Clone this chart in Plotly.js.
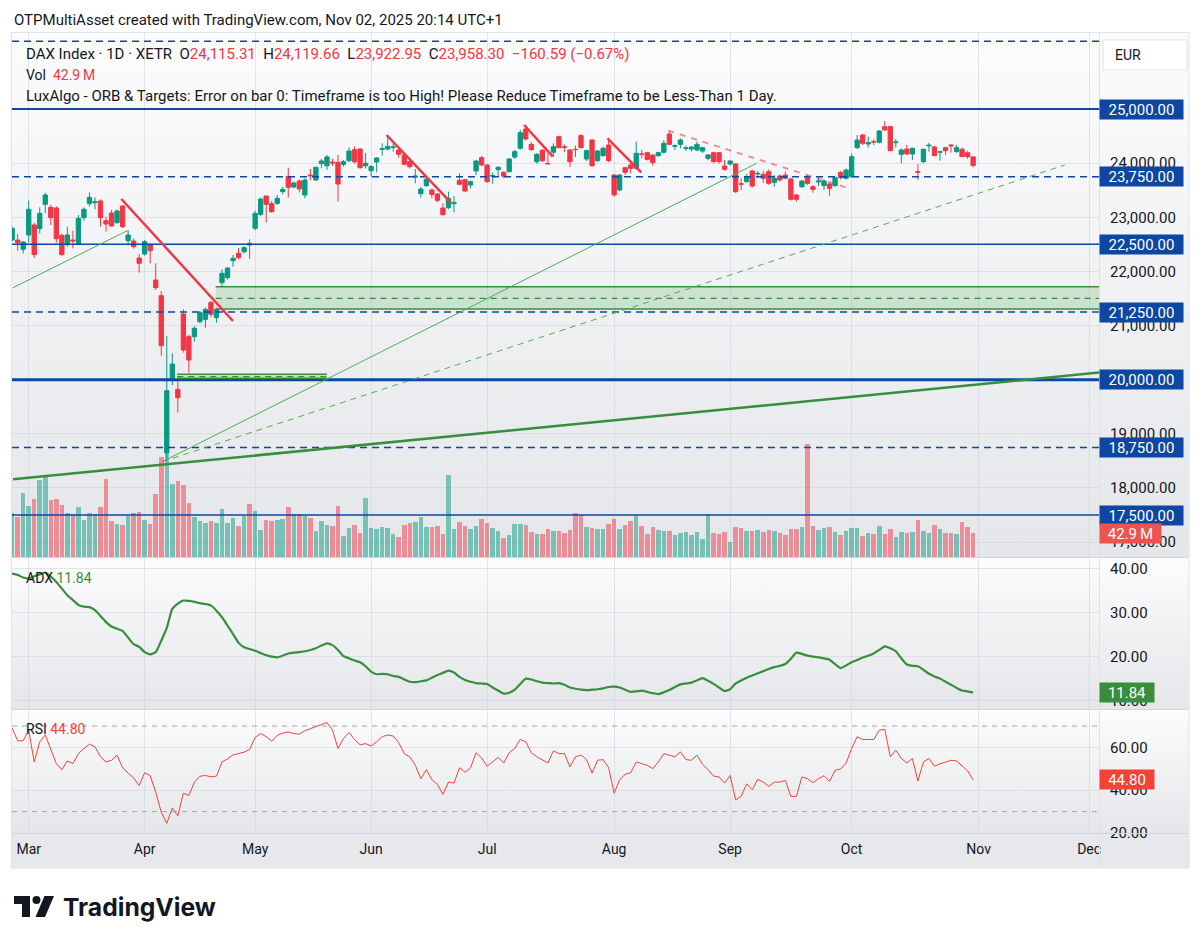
<!DOCTYPE html>
<html>
<head>
<meta charset="utf-8">
<script src="https://cdn.plot.ly/plotly-3.0.1.min.js"></script>
<style>
  html, body { margin: 0; padding: 0; background: #ffffff; }
  #chart { width: 1202px; height: 944px; }
</style>
</head>
<body>
<div id="chart"></div>
<script>
// ---- Xetra sessions shown on the chart, grouped by month ----
const sessionDays = {
  '2025-02': [26, 27, 28],
  '2025-03': [3, 4, 5, 6, 7, 10, 11, 12, 13, 14, 17, 18, 19, 20, 21, 24, 25, 26, 27, 28, 31],
  '2025-04': [1, 2, 3, 4, 7, 8, 9, 10, 11, 14, 15, 16, 17, 22, 23, 24, 25, 28, 29, 30],
  '2025-05': [2, 5, 6, 7, 8, 9, 12, 13, 14, 15, 16, 19, 20, 21, 22, 23, 26, 27, 28, 29, 30],
  '2025-06': [2, 3, 4, 5, 6, 9, 10, 11, 12, 13, 16, 17, 18, 19, 20, 23, 24, 25, 26, 27, 30],
  '2025-07': [1, 2, 3, 4, 7, 8, 9, 10, 11, 14, 15, 16, 17, 18, 21, 22, 23, 24, 25, 28, 29, 30, 31],
  '2025-08': [1, 4, 5, 6, 7, 8, 11, 12, 13, 14, 15, 18, 19, 20, 21, 22, 25, 26, 27, 28, 29],
  '2025-09': [1, 2, 3, 4, 5, 8, 9, 10, 11, 12, 15, 16, 17, 18, 19, 22, 23, 24, 25, 26, 29, 30],
  '2025-10': [1, 2, 3, 6, 7, 8, 9, 10, 13, 14, 15, 16, 17, 20, 21, 22, 23, 24, 27, 28, 29, 30, 31]
};
// sessions to come (empty space on the right of the time axis)
const upcomingDays = {
  '2025-11': [3, 4, 5, 6, 7, 10, 11, 12, 13, 14, 17, 18, 19, 20, 21, 24, 25, 26, 27, 28],
  '2025-12': [1, 2, 3, 4, 5]
};
const monthNames = ['Jan','Feb','Mar','Apr','May','Jun','Jul','Aug','Sep','Oct','Nov','Dec'];

// ---- DAX daily OHLC ----
const open = [
  22580, 22580, 22408,
  22673, 22857, 22790, 23239, 23184, 23171, 22667, 22494, 22580, 22506,
  22993, 23251, 23270, 23301, 22937, 23079, 22901, 23208, 22568, 22562,
  22248, 22322, 22488, 21842, 21552, 18650, 20031, 19822, 21214, 20795,
  20795, 21072, 21115, 21429, 21146, 21792, 21885, 22199, 22334, 22365,
  22519, 22796, 23054, 23393, 23251, 23257, 23473, 23756, 23559, 23670,
  23411, 23781, 23689, 23990, 23953, 24020, 24015, 23978, 24046, 24249,
  24261, 23953, 23861, 24021, 24255, 24261, 24290, 24243, 24150, 24027,
  23740, 23436, 23584, 23504, 23430, 23171, 23177, 23251, 23682, 23695,
  23596, 23855, 24101, 23965, 23760, 23879, 23830, 23842, 24113, 24273,
  24631, 24347, 24027, 24237, 23995, 24200, 24489, 24304, 24243, 24255,
  24508, 24077, 24427, 24046, 24138, 24335, 23781, 23504, 23916, 23965,
  23904, 24170, 24193, 24150, 24138, 24200, 24538, 24310, 24347, 24270,
  24261, 24243, 24224, 24089, 24193, 24193, 23947, 23984, 23984, 23620,
  23658, 23855, 23800, 23793, 23842, 23645, 23762, 23781, 23707, 23411,
  23565, 23731, 23565, 23652, 23584, 23615, 23584, 23830, 23719, 23750,
  24286, 24520, 24353, 24397, 24384, 24674, 24674, 24378, 24163, 24261,
  24169, 23842, 24027, 24320, 24298, 24200, 24286, 24335, 24212, 24255,
  24193, 24115.31
];
const high = [
  22830, 22691, 22560,
  23307, 22900, 23184, 23455, 23230, 23200, 22700, 22827, 22753, 23042,
  23180, 23460, 23368, 23330, 23011, 23135, 23140, 23220, 22765, 22610,
  22322, 22580, 22520, 22150, 21638, 20807, 20486, 20025, 21300, 20830,
  20990, 21270, 21330, 21450, 21320, 22039, 22075, 22303, 22433, 22470,
  22593, 23120, 23362, 23400, 23300, 23411, 23565, 23916, 23658, 23700,
  23720, 23892, 23935, 24077, 24150, 24080, 24150, 24058, 24292, 24310,
  24270, 24187, 23966, 24110, 24366, 24520, 24366, 24260, 24160, 24040,
  23892, 23565, 23750, 23530, 23445, 23257, 23473, 23393, 23812, 23710,
  23680, 24060, 24130, 23980, 23830, 23940, 23850, 24090, 24249, 24618,
  24704, 24397, 24180, 24260, 24181, 24366, 24508, 24347, 24260, 24323,
  24532, 24250, 24446, 24240, 24304, 24458, 23800, 23800, 23935, 24027,
  24397, 24243, 24210, 24160, 24212, 24427, 24581, 24347, 24458, 24323,
  24310, 24397, 24300, 24170, 24210, 24200, 24058, 24060, 24000, 23719,
  23800, 23880, 23855, 23861, 23885, 23780, 23790, 23842, 23730, 23430,
  23680, 23781, 23596, 23738, 23700, 23640, 23745, 23850, 23900, 24181,
  24520, 24540, 24490, 24440, 24612, 24778, 24690, 24446, 24270, 24335,
  24290, 23984, 24270, 24378, 24320, 24230, 24300, 24353, 24335, 24290,
  24230, 24119.66
];
const low = [
  22560, 22383, 22334,
  22531, 22250, 22700, 23073, 22857, 22531, 22290, 22457, 22426, 22488,
  22937, 23200, 23147, 22827, 22734, 22827, 22880, 22800, 22482, 22420,
  21977, 22290, 22150, 21657, 20444, 18490, 19902, 19391, 20500, 20130,
  20703, 21040, 20960, 21152, 21054, 21730, 21850, 22088, 22220, 22330,
  22230, 22760, 23020, 22900, 23080, 23230, 23424, 23362, 23535, 23460,
  23350, 23682, 23670, 23904, 23873, 23950, 23289, 23935, 24020, 23990,
  23900, 23900, 23750, 23830, 24138, 24236, 24212, 24101, 23960, 23900,
  23627, 23362, 23560, 23350, 23276, 23030, 23150, 23091, 23590, 23470,
  23535, 23780, 23950, 23640, 23620, 23760, 23720, 23830, 24077, 24250,
  24420, 24230, 23990, 24020, 23978, 24126, 24280, 24200, 23929, 24113,
  24270, 24040, 23930, 24020, 24120, 24020, 23380, 23480, 23781, 23812,
  23880, 24089, 24050, 23953, 24120, 24180, 24330, 24243, 24273, 24224,
  24220, 24220, 24190, 24052, 24000, 23990, 23860, 23960, 23450, 23504,
  23640, 23547, 23720, 23639, 23600, 23565, 23660, 23700, 23310, 23288,
  23540, 23600, 23454, 23578, 23504, 23400, 23560, 23700, 23700, 23730,
  24260, 24330, 24286, 24335, 24365, 24600, 24220, 24286, 23996, 24150,
  24058, 23688, 24000, 24212, 24130, 24046, 24150, 24193, 24193, 24120,
  24080, 23922.95
];
const close = [
  22796, 22531, 22543,
  23147, 22310, 23073, 23412, 22993, 22605, 22310, 22673, 22560, 22981,
  23147, 23368, 23290, 22993, 22876, 22839, 23116, 22827, 22673, 22457,
  22150, 22550, 22383, 21700, 20629, 19797, 20290, 19668, 20549, 20364,
  20949, 21238, 21300, 21208, 21300, 21965, 22063, 22242, 22254, 22439,
  22488, 23073, 23337, 23239, 23104, 23350, 23516, 23553, 23633, 23522,
  23689, 23767, 23923, 24040, 24113, 24005, 23615, 24027, 24224, 24027,
  23916, 23996, 23935, 24095, 24267, 24310, 24300, 24163, 23978, 23935,
  23760, 23522, 23701, 23424, 23313, 23048, 23350, 23270, 23608, 23485,
  23658, 24040, 23965, 23658, 23770, 23923, 23760, 24077, 24212, 24563,
  24446, 24249, 24163, 24046, 23988, 24304, 24286, 24290, 24027, 24250,
  24286, 24230, 23953, 24224, 24274, 24046, 23412, 23781, 23830, 23904,
  24181, 24163, 24070, 24009, 24193, 24366, 24347, 24320, 24427, 24280,
  24298, 24347, 24286, 24150, 24027, 24027, 23886, 24040, 23473, 23610,
  23750, 23578, 23810, 23720, 23627, 23719, 23688, 23720, 23331, 23331,
  23670, 23627, 23516, 23670, 23670, 23535, 23732, 23731, 23873, 24119,
  24427, 24366, 24378, 24390, 24594, 24612, 24230, 24390, 24243, 24169,
  24273, 23830, 24255, 24330, 24138, 24210, 24230, 24320, 24286, 24120,
  24118.89, 23958.30
];
// volume, millions of contracts
const volume = [
  79.2, 71.5, 114.4,
  91.1, 103.6, 137.6, 143.0, 101.9, 103.6, 92.9, 78.6, 76.8, 89.3,
  66.1, 78.6, 76.8, 89.3, 139.4, 64.3, 58.9, 57.2, 73.3, 78.6,
  80.4, 66.1, 58.9, 112.6, 178.7, 197.2, 130.5, 135.8, 128.7, 96.5,
  71.5, 64.3, 60.8, 64.3, 60.8, 85.8, 60.8, 69.7, 55.4, 73.3,
  94.7, 82.2, 48.2, 66.1, 64.3, 66.1, 67.9, 89.3, 76.8, 76.8,
  73.3, 69.7, 46.4, 64.3, 57.2, 55.4, 91.1, 37.5, 51.8, 57.2,
  42.9, 105.4, 51.8, 50.0, 53.6, 51.8, 41.1, 35.7, 57.2, 60.8,
  62.5, 71.5, 53.6, 53.6, 55.4, 41.1, 146.5, 50.0, 62.5, 55.4,
  50.0, 55.4, 67.9, 60.8, 51.8, 46.4, 33.9, 39.3, 58.9, 58.9,
  57.2, 44.7, 41.1, 41.1, 50.0, 46.4, 46.4, 42.9, 48.2, 78.6,
  75.1, 53.6, 51.8, 50.0, 50.0, 58.9, 67.9, 50.0, 57.2, 64.3,
  73.3, 55.4, 41.1, 53.6, 48.2, 46.4, 46.4, 39.3, 42.9, 44.7,
  39.3, 44.7, 32.1, 76.8, 42.9, 41.1, 44.7, 26.8, 53.6, 51.8,
  46.4, 46.4, 48.2, 44.7, 48.2, 46.4, 42.9, 39.3, 50.0, 50.0,
  53.6, 202.0, 55.4, 48.2, 51.8, 53.6, 44.7, 39.3, 46.4, 51.8,
  51.8, 37.5, 42.9, 41.1, 55.4, 41.1, 50.0, 35.7, 44.7, 42.9,
  44.7, 66.1, 46.4, 42.9, 57.2, 50.0, 42.9, 42.9, 41.1, 62.5,
  53.6, 42.9
];
// ADX (14)
const adx = [
  38.8, 38.5, 37.9,
  37.7, 38.2, 38.6, 39.0, 38.1, 36.9, 35.4, 33.9, 32.8, 31.7,
  31.3, 31.2, 30.5, 29.2, 27.8, 26.8, 26.3, 25.8, 24.3, 22.8,
  22.2, 21.0, 20.5, 21.0, 23.6, 26.5, 30.8, 32.0, 32.7, 32.6,
  32.4, 32.1, 31.9, 31.6, 30.4, 28.9, 27.0, 25.1, 23.1, 22.1,
  21.7, 21.3, 20.8, 20.3, 20.0, 19.8, 20.2, 20.7, 20.9, 21.0,
  21.2, 21.5, 21.9, 22.5, 23.0, 22.6, 21.5, 20.1, 19.6, 19.1,
  18.7, 17.8, 16.6, 16.0, 16.1, 16.0, 15.6, 15.4, 14.8, 14.3,
  14.2, 14.4, 14.6, 15.2, 15.8, 16.3, 16.8, 16.4, 15.4, 14.7,
  14.3, 14.0, 13.9, 13.8, 13.0, 12.3, 11.6, 11.8, 12.5, 13.8,
  15.0, 14.8, 14.4, 14.1, 14.0, 13.9, 14.0, 13.6, 13.0, 12.7,
  12.5, 12.4, 12.5, 12.6, 12.8, 13.1, 13.2, 13.0, 12.5, 12.0,
  12.1, 12.3, 12.0, 11.7, 11.5, 11.9, 12.4, 13.1, 13.7, 13.9,
  14.1, 14.6, 15.1, 14.5, 13.8, 13.0, 12.2, 12.6, 13.9, 14.6,
  15.2, 15.7, 16.2, 16.7, 17.2, 17.6, 17.9, 18.3, 19.5, 20.9,
  20.6, 20.2, 20.0, 19.8, 19.6, 19.3, 18.3, 17.4, 18.0, 18.7,
  19.2, 19.8, 20.2, 20.7, 21.5, 22.3, 21.9, 21.2, 19.6, 18.2,
  17.9, 17.8, 17.0, 16.1, 15.5, 15.0, 14.3, 13.6, 12.9, 12.3,
  12.1, 11.84
];
// RSI (14)
const rsi = [
  69.0, 63.1, 63.1,
  68.0, 53.2, 62.6, 65.8, 58.7, 52.4, 49.6, 53.7, 52.4, 57.1,
  59.5, 61.5, 60.3, 55.6, 53.2, 54.0, 56.4, 50.5, 48.0, 45.7,
  42.2, 48.2, 46.8, 39.1, 29.7, 24.5, 31.7, 28.0, 38.6, 37.5,
  43.8, 46.5, 46.9, 46.2, 46.6, 53.2, 54.6, 56.5, 57.1, 57.8,
  59.0, 64.7, 66.5, 65.0, 62.9, 65.6, 66.7, 67.2, 66.5, 66.2,
  67.8, 68.7, 69.7, 70.5, 71.6, 68.1, 59.5, 64.2, 67.0, 63.7,
  61.2, 61.8, 60.6, 62.6, 65.0, 65.8, 65.3, 62.2, 57.1, 55.6,
  51.6, 45.4, 49.6, 44.9, 42.7, 38.0, 43.8, 43.3, 50.5, 48.4,
  50.5, 57.5, 55.1, 51.2, 53.2, 55.3, 52.7, 57.5, 59.5, 63.7,
  62.6, 57.5, 55.6, 54.3, 52.7, 58.4, 57.1, 57.1, 50.9, 55.6,
  56.4, 54.3, 48.0, 54.0, 54.3, 50.5, 38.6, 44.9, 47.4, 48.2,
  53.2, 52.4, 51.6, 50.1, 53.2, 57.1, 56.4, 55.6, 57.9, 54.3,
  54.0, 56.4, 52.1, 49.6, 46.6, 46.2, 43.3, 46.9, 35.5, 37.1,
  43.0, 40.2, 45.1, 43.8, 41.8, 43.8, 43.8, 44.6, 37.1, 37.1,
  46.2, 45.4, 43.5, 45.4, 46.8, 44.1, 49.3, 49.9, 52.7, 59.5,
  65.0, 63.7, 63.7, 63.7, 68.1, 68.4, 55.6, 58.7, 54.8, 52.7,
  54.8, 44.3, 53.2, 54.8, 51.2, 52.4, 53.1, 54.0, 53.7, 51.2,
  49.0, 44.80
];

// ---- drawings: horizontal levels, ORB zones, trend lines (session index, price) ----
const levelPrices   = [26250, 25000, 23750, 22500, 21250, 20000, 18750, 17500];
const labelledLevels = [25000, 23750, 22500, 21250, 20000, 18750, 17500];
const orbZones = [            // [from, to, bottom, middle, top]
  [36.85, 196.8, 21306, 21504, 21717],
  [29.9, 57.0, 20026, 20056, 20100]
];
const redTrendLines = [
  [19.77, 23338, 39.99, 21084],
  [67.8, 24520, 79.4, 23277],
  [92.7, 24704, 97.9, 24119],
  [107.8, 24459, 113.9, 23831]
];
const redDashedLines = [[118.8, 24600, 151.9, 23522]];
const greenThinLines = [[0.16, 21699, 20.85, 22752], [27.2, 18486, 134.8, 23997]];
const greenDashedLines = [[27.2, 18486, 190.6, 23966]];
const greenThickLines = [[0.16, 18160, 196.8, 20133]];
const rsiBands = [70, 30];

// ---------------------------------------------------------------
const UP = '#089981', DOWN = '#f23645', BLUE = '#0d47a1', GREEN = '#388e3c', RSI_RED = '#f44336';
const TEXT = '#131722', FONT = 'Roboto, "Noto Sans", sans-serif';

// sessions -> positions on the time axis
const sessions = [];
const monthStarts = [];
function addSessions(group) {
  Object.keys(group).forEach(key => {
    const m = parseInt(key.slice(5), 10) - 1;
    group[key].forEach((d, j) => {
      if (j === 0 && key !== '2025-02') monthStarts.push({ idx: sessions.length, name: monthNames[m] });
      sessions.push(key + '-' + String(d).padStart(2, '0'));
    });
  });
}
addSessions(sessionDays);
const nBars = sessions.length;
addSessions(upcomingDays);
const xs = Array.from({ length: nBars }, (_, k) => k);

// plot box on the page
const L = 12, R = 1099, T = 33, B = 833, FRAME_R = 1189, FRAME_B = 868;
const pxX = x => (x - L) / (R - L);
const pxY = y => (B - y) / (B - T);

const fmt2 = v => v.toLocaleString('en-US', { minimumFractionDigits: 2, maximumFractionDigits: 2 });
const MINUS = '\u2212', NB = '\u00a0';

// --- traces ---
const volColors = close.map((c, k) => c >= open[k] ? 'rgba(8,153,129,0.5)' : 'rgba(242,54,69,0.5)');
const traces = [
  { type: 'bar', x: xs, y: volume, yaxis: 'y2', width: 0.82,
    marker: { color: volColors, line: { width: 0 } }, hoverinfo: 'skip', showlegend: false },
  { type: 'candlestick', x: xs, open: open, high: high, low: low, close: close, yaxis: 'y',
    increasing: { line: { color: UP, width: 1 }, fillcolor: UP },
    decreasing: { line: { color: DOWN, width: 1 }, fillcolor: DOWN },
    whiskerwidth: 0, hoverinfo: 'skip', showlegend: false },
  { type: 'scatter', mode: 'lines', x: xs, y: adx, yaxis: 'y3',
    line: { color: GREEN, width: 2.2, shape: 'spline', smoothing: 0.5 }, hoverinfo: 'skip', showlegend: false },
  { type: 'scatter', mode: 'lines', x: xs, y: rsi, yaxis: 'y4',
    line: { color: RSI_RED, width: 1 }, hoverinfo: 'skip', showlegend: false }
];

// --- shapes ---
const shapes = [];
// x-axis strip
shapes.push({ type: 'rect', xref: 'paper', yref: 'paper', layer: 'below',
  x0: pxX(L), x1: pxX(FRAME_R), y0: pxY(B), y1: pxY(FRAME_B), fillcolor: '#e6e8eb', line: { width: 0 } });

levelPrices.forEach(p => {
  const solid = [25000, 22500, 20000, 17500].includes(p);
  const w = p === 20000 ? 3 : (p === 25000 ? 2 : 1.5);
  shapes.push({ type: 'line', xref: 'paper', yref: 'y', x0: 0, x1: 1, y0: p, y1: p,
    line: { color: BLUE, width: w, dash: solid ? 'solid' : '7px,5px' } });
});
orbZones.forEach(z => {
  shapes.push({ type: 'rect', xref: 'x', yref: 'y', x0: z[0], x1: z[1], y0: z[2], y1: z[4],
    fillcolor: 'rgba(76,175,80,0.22)', line: { width: 0 } });
  [z[2], z[4]].forEach(p => shapes.push({ type: 'line', xref: 'x', yref: 'y', x0: z[0], x1: z[1], y0: p, y1: p,
    line: { color: GREEN, width: 1.5 } }));
  shapes.push({ type: 'line', xref: 'x', yref: 'y', x0: z[0], x1: z[1], y0: z[3], y1: z[3],
    line: { color: GREEN, width: 1.3, dash: '6px,5px' } });
});
const seg = (s, color, width, dash) => shapes.push({ type: 'line', xref: 'x', yref: 'y',
  x0: s[0], y0: s[1], x1: s[2], y1: s[3], line: { color: color, width: width, dash: dash || 'solid' } });
greenThickLines.forEach(s => seg(s, GREEN, 2.5));
greenThinLines.forEach(s => seg(s, '#4caf50', 1));
greenDashedLines.forEach(s => seg(s, '#4caf50', 1, '6px,5px'));
redTrendLines.forEach(s => seg(s, '#f23645', 2.5));
redDashedLines.forEach(s => seg(s, 'rgba(242,54,69,0.55)', 2, '6px,6px'));
rsiBands.forEach(v => shapes.push({ type: 'line', xref: 'paper', yref: 'y4', x0: 0, x1: 1, y0: v, y1: v,
  line: { color: '#a3a6af', width: 1, dash: '5px,5px' } }));

// pane separators and frame
[557.5, 709.5, 833.5].forEach(y => shapes.push({ type: 'line', xref: 'paper', yref: 'paper',
  x0: pxX(L), x1: pxX(FRAME_R), y0: pxY(y), y1: pxY(y), line: { color: '#d1d4dc', width: 1 } }));
shapes.push({ type: 'line', xref: 'paper', yref: 'paper', x0: pxX(R + 0.5), x1: pxX(R + 0.5),
  y0: pxY(T), y1: pxY(FRAME_B), line: { color: '#dfe2e8', width: 1 } });
shapes.push({ type: 'rect', xref: 'paper', yref: 'paper', x0: pxX(L - 0.5), x1: pxX(FRAME_R), y0: pxY(T - 0.5), y1: pxY(FRAME_B),
  line: { color: '#e0e3eb', width: 1 }, fillcolor: 'rgba(0,0,0,0)' });
// currency button
shapes.push({ type: 'rect', xref: 'paper', yref: 'paper', x0: pxX(1103), x1: pxX(1187), y0: pxY(40), y1: pxY(70),
  fillcolor: '#ffffff', line: { color: '#e0e3eb', width: 1 } });

// TradingView logo mark
const pathOf = pts => 'M' + pts.map(p => pxX(p[0]) + ',' + pxY(p[1])).join(' L') + ' Z';
shapes.push({ type: 'path', xref: 'paper', yref: 'paper', fillcolor: TEXT, line: { width: 0 },
  path: pathOf([[14, 896], [30, 896], [30, 917], [22, 917], [22, 904], [14, 904]]) });
shapes.push({ type: 'circle', xref: 'paper', yref: 'paper', fillcolor: TEXT, line: { width: 0 },
  x0: pxX(32.5), x1: pxX(40.5), y0: pxY(896), y1: pxY(904) });
shapes.push({ type: 'path', xref: 'paper', yref: 'paper', fillcolor: TEXT, line: { width: 0 },
  path: pathOf([[44.5, 896], [54, 896], [45, 917], [35.5, 917]]) });

// --- annotations ---
const ann = [];
const textAt = (x, y, html, size, extra) => ann.push(Object.assign({ xref: 'paper', yref: 'paper',
  x: pxX(x), y: pxY(y), xanchor: 'left', yanchor: 'middle', showarrow: false, text: html,
  font: { family: FONT, size: size || 14, color: TEXT } }, extra || {}));
const red = s => `<span style="color:${DOWN}">${s}</span>`;

const last = nBars - 1;
const chg = close[last] - close[last - 1];
const pct = chg / close[last - 1] * 100;
const signed = v => (v < 0 ? MINUS : '+') + fmt2(Math.abs(v));

textAt(12, 20, 'OTPMultiAsset created with TradingView.com, Nov 02, 2025 20:14 UTC+1', 15);
textAt(24, 54, 'DAX Index · 1D · XETR' + NB + NB + 'O' + red(fmt2(open[last])) + NB + NB + 'H' + red(fmt2(high[last])) +
  NB + NB + 'L' + red(fmt2(low[last])) + NB + NB + 'C' + red(fmt2(close[last])) + NB + NB +
  red(signed(chg) + ' (' + (pct < 0 ? MINUS : '+') + Math.abs(pct).toFixed(2) + '%)'), 15);
textAt(24, 75, 'Vol' + NB + NB + red(volume[last].toFixed(1) + '\u2009M'), 14);
textAt(24, 96, 'LuxAlgo - ORB &amp; Targets: Error on bar 0: Timeframe is too High! Please Reduce Timeframe to be Less-Than 1 Day.', 15);
textAt(24, 578, 'ADX' + NB + `<span style="color:${GREEN}">${adx[last].toFixed(2)}</span>`, 14);
textAt(24, 729, 'RSI' + NB + `<span style="color:${RSI_RED}">${rsi[last].toFixed(2)}</span>`, 14);
textAt(1113, 55, 'EUR', 14);
textAt(61, 907, 'TradingView', 24.7, { font: { family: 'Inter, Roboto, sans-serif', size: 24.7, color: TEXT, weight: 700 } });

// value tags on the price scale
const tag = (value, yref, label, bg, w) => ann.push({ xref: 'paper', yref: yref, x: 1, y: value,
  xanchor: 'left', yanchor: 'middle', showarrow: false, text: label, bgcolor: bg, borderpad: 2,
  width: w, height: 15, align: 'center', font: { family: FONT, size: 15, color: '#ffffff' } });
labelledLevels.forEach(p => tag(p, 'y', fmt2(p), BLUE, 79));
tag(volume[last], 'y2', volume[last].toFixed(1) + '\u2009M', '#ef5350', 57);
tag(adx[last], 'y3', adx[last].toFixed(2), GREEN, 50);
tag(rsi[last], 'y4', rsi[last].toFixed(2), RSI_RED, 50);

// --- backgrounds: soft vertical gradient per pane ---
function gradient(top, bottom) {
  const svg = `<svg xmlns="http://www.w3.org/2000/svg" width="10" height="100" preserveAspectRatio="none">` +
    `<defs><linearGradient id="g" x1="0" y1="0" x2="0" y2="1"><stop offset="0" stop-color="${top}"/>` +
    `<stop offset="1" stop-color="${bottom}"/></linearGradient></defs><rect width="10" height="100" fill="url(#g)"/></svg>`;
  return 'data:image/svg+xml;base64,' + btoa(svg);
}
const paneImg = (y0, y1) => ({ source: gradient('#fcfcfd', '#e4e6e9'), xref: 'paper', yref: 'paper',
  x: pxX(L), y: pxY(y0), sizex: pxX(FRAME_R) - pxX(L), sizey: pxY(y0) - pxY(y1),
  xanchor: 'left', yanchor: 'top', sizing: 'stretch', layer: 'below' });

const GRID = 'rgba(205,209,217,0.55)';
const tickFont = { family: FONT, size: 15, color: TEXT };
const yCommon = { side: 'right', anchor: 'x', showgrid: true, gridcolor: GRID, gridwidth: 1, zeroline: false,
  showline: false, ticks: '', tickfont: tickFont, tickformat: ',.2f', ticklabelstandoff: 10, fixedrange: true };

const layout = {
  width: 1202, height: 944,
  margin: { l: L, r: 1202 - R, t: T, b: 944 - B, pad: 0 },
  paper_bgcolor: '#ffffff', plot_bgcolor: 'rgba(0,0,0,0)',
  showlegend: false, hovermode: false, dragmode: false,
  boxgap: 0.22, boxgroupgap: 0, bargap: 0,
  xaxis: { type: 'linear', range: [-0.024, 196.79], anchor: 'y4', showgrid: true, gridcolor: GRID,
    zeroline: false, showline: false, ticks: '', rangeslider: { visible: false },
    tickvals: monthStarts.map(m => m.idx), ticktext: monthStarts.map(m => m.name),
    tickfont: { family: FONT, size: 14, color: TEXT }, ticklabelstandoff: 6, fixedrange: true },
  yaxis: Object.assign({}, yCommon, { domain: [(B - 557) / (B - T), 1], range: [16725.4, 26403.7],
    tickvals: [17000, 18000, 19000, 20000, 21000, 22000, 23000, 24000, 25000] }),
  yaxis2: { overlaying: 'y', side: 'left', range: [0, 936.7], visible: false, fixedrange: true },
  yaxis3: Object.assign({}, yCommon, { domain: [(B - 709) / (B - T), (B - 558) / (B - T)], range: [8.12, 42.33],
    tickvals: [10, 20, 30, 40] }),
  yaxis4: Object.assign({}, yCommon, { domain: [0, (B - 710) / (B - T)], range: [20.0, 77.48],
    tickvals: [20, 40, 60] }),
  shapes: shapes,
  annotations: ann,
  images: [paneImg(T, 557), paneImg(558, 709), paneImg(710, B)]
};

Plotly.newPlot('chart', traces, layout, { staticPlot: true, displayModeBar: false });
</script>
</body>
</html>
